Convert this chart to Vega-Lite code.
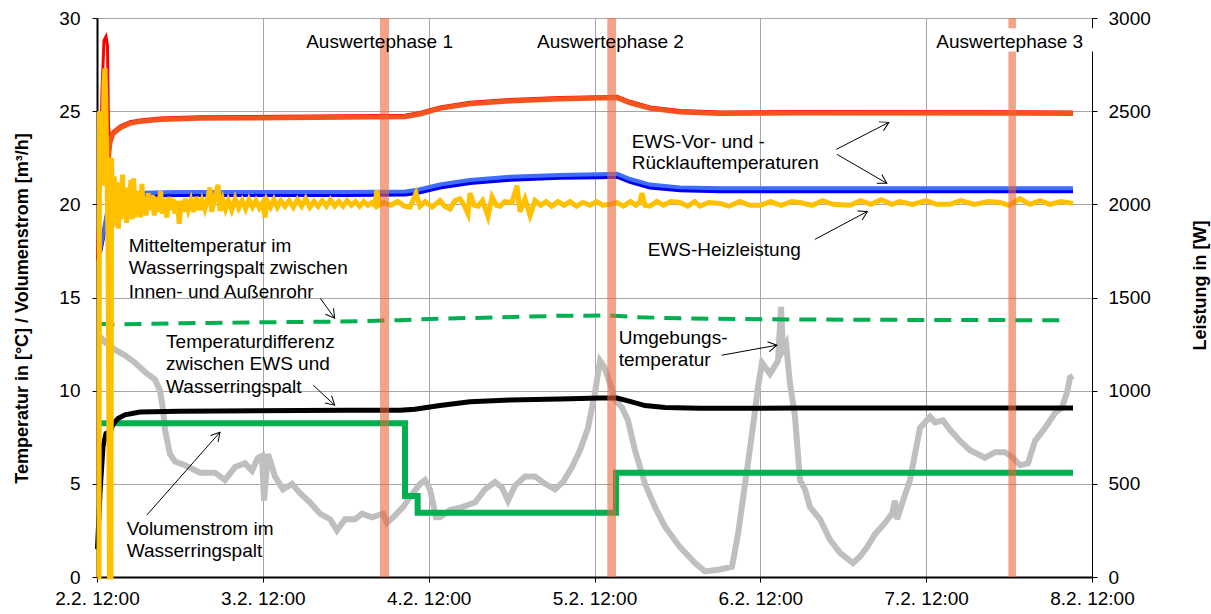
{
  "$schema": "https://vega.github.io/schema/vega-lite/v6.json",
  "autosize": {"type": "none"},
  "width": 995,
  "height": 559,
  "padding": {"left": 97, "top": 18, "right": 119, "bottom": 37},
  "background": "white",
  "config": {
    "font": "Liberation Sans",
    "view": {"stroke": null},
    "axis": {
      "labelFontSize": 19, "labelColor": "black", "titleFontSize": 18, "titleFontWeight": "bold",
      "titleColor": "black", "domainColor": "black", "tickColor": "black", "tickSize": 5,
      "gridColor": "#A6A6A6", "gridWidth": 1, "labelOverlap": false, "labelBound": false, "labelFlush": false
    },
    "text": {"fontSize": 19, "color": "black"}
  },
  "datasets": {
    "umgebung": [
      {"h":0.43,"T":12.9},{"h":1.16,"T":12.6},{"h":2.6,"T":12.2},{"h":4.05,"T":11.9},{"h":5.5,"T":11.5},{"h":6.95,"T":11.0},{"h":8.39,"T":10.6},{"h":9.12,"T":10.0},{"h":9.55,"T":9.0},{"h":9.84,"T":7.9},{"h":10.56,"T":6.6},{"h":11.29,"T":6.2},{"h":12.74,"T":6.0},{"h":14.91,"T":5.6},{"h":17.08,"T":5.6},{"h":18.52,"T":5.2},{"h":19.97,"T":5.9},{"h":21.42,"T":6.1},{"h":22.43,"T":5.7},{"h":23.3,"T":6.4},{"h":23.88,"T":6.5},{"h":24.17,"T":4.1},{"h":24.75,"T":6.6},{"h":25.76,"T":5.4},{"h":26.92,"T":4.7},{"h":28.22,"T":5.0},{"h":29.38,"T":4.5},{"h":30.83,"T":4.0},{"h":32.27,"T":3.4},{"h":33.72,"T":3.1},{"h":34.73,"T":2.5},{"h":35.89,"T":3.1},{"h":37.34,"T":3.1},{"h":38.35,"T":3.4},{"h":39.8,"T":3.2},{"h":41.39,"T":3.4},{"h":41.97,"T":2.9},{"h":42.84,"T":3.2},{"h":44.29,"T":3.75},{"h":45.3,"T":4.3},{"h":46.75,"T":5.0},{"h":47.47,"T":5.2},{"h":48.19,"T":4.7},{"h":49.06,"T":3.2},{"h":49.64,"T":3.2},{"h":51.09,"T":3.6},{"h":52.82,"T":3.75},{"h":54.71,"T":4.0},{"h":56.15,"T":4.7},{"h":57.6,"T":5.1},{"h":58.61,"T":4.8},{"h":59.48,"T":4.1},{"h":60.49,"T":4.9},{"h":61.94,"T":5.4},{"h":63.39,"T":5.4},{"h":64.84,"T":5.0},{"h":66.28,"T":4.7},{"h":67.44,"T":5.1},{"h":68.74,"T":5.9},{"h":69.9,"T":6.8},{"h":71.06,"T":8.0},{"h":72.07,"T":9.9},{"h":72.8,"T":11.6},{"h":73.37,"T":11.3},{"h":74.24,"T":10.4},{"h":74.97,"T":9.5},{"h":75.98,"T":9.1},{"h":76.85,"T":8.4},{"h":77.86,"T":6.8},{"h":79.31,"T":5.0},{"h":80.76,"T":3.75},{"h":82.2,"T":2.7},{"h":84.37,"T":1.6},{"h":86.55,"T":0.75},{"h":87.99,"T":0.3},{"h":90.16,"T":0.4},{"h":91.9,"T":0.55},{"h":92.77,"T":2.3},{"h":93.79,"T":5.0},{"h":94.8,"T":7.7},{"h":95.67,"T":10.2},{"h":96.24,"T":11.5},{"h":97.4,"T":10.9},{"h":98.56,"T":11.6},{"h":98.99,"T":14.5},{"h":99.28,"T":12.2},{"h":99.72,"T":12.5},{"h":100.29,"T":10.4},{"h":101.02,"T":8.6},{"h":101.74,"T":5.2},{"h":102.46,"T":4.7},{"h":103.19,"T":3.75},{"h":104.63,"T":3.1},{"h":106.08,"T":2.0},{"h":107.53,"T":1.3},{"h":109.41,"T":0.75},{"h":110.43,"T":1.1},{"h":111.44,"T":1.6},{"h":112.6,"T":2.3},{"h":114.04,"T":2.9},{"h":115.06,"T":3.4},{"h":115.49,"T":4.1},{"h":115.78,"T":3.1},{"h":116.65,"T":4.1},{"h":117.66,"T":5.2},{"h":118.38,"T":6.6},{"h":119.11,"T":8.0},{"h":120.56,"T":8.6},{"h":121.28,"T":8.3},{"h":122.43,"T":8.4},{"h":123.45,"T":7.9},{"h":124.9,"T":7.3},{"h":126.34,"T":6.8},{"h":128.51,"T":6.4},{"h":129.96,"T":6.7},{"h":131.41,"T":6.7},{"h":132.57,"T":6.4},{"h":133.58,"T":6.0},{"h":134.74,"T":6.1},{"h":135.75,"T":7.3},{"h":137.2,"T":8.0},{"h":138.65,"T":8.8},{"h":139.66,"T":9.1},{"h":140.38,"T":9.9},{"h":140.82,"T":10.7},{"h":141.25,"T":10.8}
    ],
    "volumen": [
      {"h":0.07,"V":8.25},{"h":44.57,"V":8.25},{"h":44.58,"V":4.35},{"h":46.4,"V":4.35},{"h":46.41,"V":3.45},{"h":75.1,"V":3.45},{"h":75.11,"V":5.6},{"h":141.25,"V":5.6}
    ],
    "tdiff": [
      {"h":0.07,"T":1.5},{"h":0.43,"T":4.5},{"h":0.87,"T":7.0},{"h":1.3,"T":7.7},{"h":1.88,"T":7.8},{"h":2.32,"T":8.2},{"h":3.04,"T":8.5},{"h":4.05,"T":8.7},{"h":6.22,"T":8.85},{"h":12.01,"T":8.9},{"h":36.04,"T":8.95},{"h":43.85,"T":8.95},{"h":46.0,"T":9.0},{"h":49.64,"T":9.2},{"h":53.98,"T":9.4},{"h":59.77,"T":9.5},{"h":67.01,"T":9.55},{"h":72.8,"T":9.6},{"h":75.26,"T":9.6},{"h":76.85,"T":9.45},{"h":79.31,"T":9.2},{"h":82.2,"T":9.1},{"h":87.27,"T":9.05},{"h":101.74,"T":9.07},{"h":141.25,"T":9.07}
    ],
    "mittel": [
      {"h":0.07,"T":13.6},{"h":1.88,"T":13.55},{"h":12.01,"T":13.62},{"h":24.02,"T":13.67},{"h":33.72,"T":13.7},{"h":43.85,"T":13.78},{"h":48.19,"T":13.85},{"h":60.06,"T":13.95},{"h":67.01,"T":14.02},{"h":74.24,"T":14.03},{"h":77.86,"T":13.95},{"h":84.37,"T":13.88},{"h":96.24,"T":13.83},{"h":116.21,"T":13.8},{"h":139.66,"T":13.78}
    ],
    "rl_dunkel": [
      {"h":0.43,"T":17.4},{"h":0.87,"T":18.2},{"h":1.45,"T":19.4},{"h":2.03,"T":20.1},{"h":2.75,"T":20.35},{"h":4.78,"T":20.45},{"h":12.01,"T":20.5},{"h":36.04,"T":20.5},{"h":44.57,"T":20.53},{"h":46.46,"T":20.62},{"h":49.64,"T":20.9},{"h":53.98,"T":21.15},{"h":59.77,"T":21.32},{"h":67.01,"T":21.42},{"h":72.8,"T":21.45},{"h":75.26,"T":21.48},{"h":77.14,"T":21.2},{"h":80.03,"T":20.9},{"h":84.37,"T":20.75},{"h":90.16,"T":20.7},{"h":101.74,"T":20.7},{"h":141.25,"T":20.7}
    ],
    "rl_hell": [
      {"h":0.43,"T":17.56},{"h":0.87,"T":18.36},{"h":1.45,"T":19.56},{"h":2.03,"T":20.26},{"h":2.75,"T":20.51},{"h":4.78,"T":20.61},{"h":12.01,"T":20.66},{"h":36.04,"T":20.66},{"h":44.57,"T":20.69},{"h":46.46,"T":20.78},{"h":49.64,"T":21.06},{"h":53.98,"T":21.31},{"h":59.77,"T":21.48},{"h":67.01,"T":21.58},{"h":72.8,"T":21.61},{"h":75.26,"T":21.64},{"h":77.14,"T":21.36},{"h":80.03,"T":21.06},{"h":84.37,"T":20.91},{"h":90.16,"T":20.86},{"h":101.74,"T":20.86},{"h":141.25,"T":20.86}
    ],
    "vl_rot": [
      {"h":0.07,"T":17.0},{"h":0.43,"T":21.0},{"h":0.72,"T":26.0},{"h":1.01,"T":28.8},{"h":1.3,"T":29.0},{"h":1.52,"T":28.5},{"h":1.66,"T":24.2},{"h":1.88,"T":23.45},{"h":2.32,"T":23.9},{"h":3.33,"T":24.2},{"h":4.78,"T":24.43},{"h":6.22,"T":24.53},{"h":9.12,"T":24.63},{"h":14.91,"T":24.7},{"h":36.04,"T":24.75},{"h":44.57,"T":24.78},{"h":46.75,"T":24.93},{"h":49.64,"T":25.23},{"h":53.98,"T":25.48},{"h":59.77,"T":25.63},{"h":67.01,"T":25.73},{"h":72.8,"T":25.78},{"h":75.26,"T":25.8},{"h":77.14,"T":25.53},{"h":80.03,"T":25.23},{"h":84.37,"T":25.03},{"h":90.16,"T":24.96},{"h":101.74,"T":24.98},{"h":141.25,"T":24.96}
    ],
    "vl_orange": [
      {"h":1.59,"T":22.3},{"h":1.88,"T":23.3},{"h":2.32,"T":23.8},{"h":3.33,"T":24.1},{"h":4.78,"T":24.35},{"h":6.22,"T":24.45},{"h":9.12,"T":24.55},{"h":14.91,"T":24.62},{"h":36.04,"T":24.67},{"h":44.57,"T":24.7},{"h":46.75,"T":24.85},{"h":49.64,"T":25.15},{"h":53.98,"T":25.4},{"h":59.77,"T":25.55},{"h":67.01,"T":25.65},{"h":72.8,"T":25.7},{"h":75.26,"T":25.72},{"h":77.14,"T":25.45},{"h":80.03,"T":25.15},{"h":84.37,"T":24.95},{"h":90.16,"T":24.88},{"h":101.74,"T":24.9},{"h":141.25,"T":24.88}
    ],
    "heiz": [
      {"h":0.07,"P":0},{"h":0.29,"P":0},{"h":0.36,"P":2500},{"h":0.58,"P":2450},{"h":0.8,"P":2100},{"h":1.01,"P":2650},{"h":1.16,"P":2730},{"h":1.3,"P":2500},{"h":1.59,"P":1800},{"h":1.81,"P":0},{"h":2.03,"P":0},
      {"h":2.1,"P":2250},{"h":2.3,"P":1880},{"h":2.5,"P":2150},{"h":2.7,"P":1900},{"h":2.9,"P":2120},{"h":3.1,"P":1870},{"h":3.3,"P":2080},{"h":3.5,"P":1920},{"h":3.7,"P":2160},{"h":3.9,"P":1950},{"h":4.1,"P":2050},{"h":4.3,"P":1900},{"h":4.5,"P":2090},{"h":4.7,"P":1960},{"h":4.9,"P":2130},{"h":5.1,"P":1920},{"h":5.3,"P":2140},{"h":5.5,"P":1930},{"h":5.7,"P":2040},{"h":5.9,"P":1960},{"h":6.1,"P":2070},{"h":6.3,"P":1930},{"h":6.5,"P":2110},{"h":6.7,"P":1960},{"h":6.9,"P":2040},{"h":7.1,"P":1940},{"h":7.4,"P":2060},{"h":7.7,"P":1970},{"h":8.0,"P":2050},{"h":8.3,"P":1940},{"h":8.6,"P":2040},{"h":8.9,"P":1960},{"h":9.2,"P":2070},{"h":9.5,"P":1950},{"h":9.8,"P":2030},{"h":10.1,"P":1930},{"h":10.4,"P":2040},{"h":10.7,"P":1970},{"h":11.0,"P":2030},{"h":11.3,"P":1950},{"h":11.6,"P":2020},{"h":11.9,"P":1895},{"h":12.2,"P":2020},{"h":12.5,"P":1960},{"h":12.8,"P":2030},{"h":13.2,"P":1970},{"h":13.6,"P":2020},{"h":14.0,"P":1960},{"h":14.4,"P":2040},{"h":14.8,"P":1970},{"h":15.2,"P":2020},{"h":15.6,"P":1975},{"h":16.0,"P":2030},{"h":16.35,"P":2090},{"h":16.6,"P":1960},{"h":17.0,"P":2025},{"h":17.5,"P":2105},{"h":17.8,"P":1965},{"h":18.2,"P":2025},{"h":18.6,"P":1975},{"h":19.0,"P":2020},{"h":19.5,"P":1970},{"h":20.0,"P":2030},{"h":20.5,"P":1980},{"h":21.0,"P":2020},{"h":21.5,"P":1975},{"h":22.0,"P":2025},{"h":22.5,"P":1985},{"h":23.0,"P":2020},{"h":23.5,"P":1980},{"h":24.0,"P":2010},{"h":24.3,"P":1930},{"h":24.6,"P":2020},{"h":25.1,"P":1985},{"h":25.6,"P":2025},{"h":26.1,"P":1985},{"h":26.6,"P":2020},{"h":27.2,"P":1990},{"h":27.8,"P":2020},{"h":28.4,"P":1985},{"h":29.0,"P":2025},{"h":29.6,"P":1990},{"h":30.2,"P":2030},{"h":30.8,"P":1985},{"h":31.4,"P":2015},{"h":32.0,"P":1990},{"h":32.6,"P":2020},{"h":33.2,"P":1990},{"h":33.8,"P":2025},{"h":34.4,"P":1990},{"h":35.0,"P":2015},{"h":35.6,"P":1990},{"h":36.2,"P":2020},{"h":36.8,"P":1995},{"h":37.4,"P":2015},{"h":38.0,"P":1990},{"h":38.6,"P":2015},{"h":39.2,"P":1995},{"h":39.8,"P":2010},{"h":40.2,"P":1995},{"h":40.52,"P":2075},{"h":40.8,"P":1995},
      {"h":41.5,"P":2010},{"h":42.5,"P":1995},{"h":43.5,"P":2015},{"h":44.5,"P":1990},{"h":45.3,"P":1985},{"h":46.17,"P":2060},{"h":46.75,"P":1990},{"h":47.5,"P":2015},{"h":48.5,"P":1985},{"h":49.64,"P":2020},{"h":50.3,"P":1990},{"h":51.09,"P":1975},{"h":51.8,"P":2020},{"h":52.53,"P":2030},{"h":53.2,"P":1990},{"h":53.69,"P":1950},{"h":53.98,"P":2060},{"h":54.6,"P":1995},{"h":55.14,"P":1990},{"h":55.8,"P":2020},{"h":56.59,"P":1935},{"h":57.17,"P":2040},{"h":57.8,"P":1995},{"h":58.32,"P":1990},{"h":59.0,"P":2015},{"h":60.06,"P":2010},{"h":60.78,"P":2100},{"h":61.22,"P":1960},{"h":61.94,"P":2030},{"h":62.67,"P":1940},{"h":63.39,"P":2020},{"h":64.2,"P":1995},{"h":65.0,"P":2015},{"h":65.8,"P":1990},{"h":66.7,"P":2015},{"h":67.6,"P":1995},{"h":68.45,"P":2015},{"h":69.4,"P":1990},{"h":70.3,"P":2010},{"h":71.35,"P":1995},{"h":72.3,"P":2015},{"h":73.2,"P":1995},{"h":74.24,"P":2000},{"h":75.2,"P":2010},{"h":76.2,"P":1990},{"h":77.2,"P":2015},{"h":78.0,"P":1995},{"h":78.59,"P":2015},{"h":78.87,"P":2060},{"h":79.3,"P":1995},{"h":80.03,"P":1990},{"h":81.0,"P":2015},{"h":82.0,"P":1995},{"h":83.0,"P":2015},{"h":84.37,"P":2010},{"h":85.5,"P":1990},{"h":86.5,"P":2015},{"h":87.27,"P":1990},{"h":88.5,"P":2010},{"h":90.16,"P":2005},{"h":91.5,"P":1990},{"h":93.0,"P":2015},{"h":94.5,"P":1995},{"h":95.95,"P":1995},{"h":97.5,"P":2015},{"h":99.0,"P":1995},{"h":100.5,"P":2015},{"h":101.74,"P":2010},{"h":103.5,"P":1995},{"h":105.0,"P":2020},{"h":106.5,"P":2000},{"h":108.98,"P":1995},{"h":110.5,"P":2020},{"h":112.0,"P":2000},{"h":113.5,"P":2025},{"h":115.0,"P":2000},{"h":116.21,"P":2015},{"h":118.0,"P":2000},{"h":120.0,"P":2020},{"h":121.5,"P":2000},{"h":123.45,"P":2000},{"h":125.0,"P":2020},{"h":127.0,"P":2000},{"h":129.0,"P":2015},{"h":130.69,"P":2010},{"h":132.0,"P":1995},{"h":133.58,"P":2030},{"h":135.0,"P":2000},{"h":136.5,"P":2020},{"h":137.92,"P":2000},{"h":139.5,"P":2015},{"h":141.25,"P":2005}
    ],
    "phasen": [
      {"von":40.96,"bis":42.26,"phase":"Auswertephase 1","mitte":40.9},
      {"von":73.85,"bis":75.11,"phase":"Auswertephase 2","mitte":74.3},
      {"von":131.9,"bis":133.0,"phase":"Auswertephase 3","mitte":132.1}
    ],
    "labelbox": [{"h1":120.5,"h2":144.3,"v1":28.2,"v2":29.45}],
    "beschriftung": [
      {"h":77.4,"v":23.35,"text":"EWS-Vor- und -"},
      {"h":77.4,"v":22.2,"text":"Rücklauftemperaturen"},
      {"h":79.7,"v":17.53,"text":"EWS-Heizleistung"},
      {"h":4.6,"v":17.75,"text":"Mitteltemperatur im"},
      {"h":4.6,"v":16.57,"text":"Wasserringspalt zwischen"},
      {"h":4.6,"v":15.3,"text":"Innen- und Außenrohr"},
      {"h":75.5,"v":12.8,"text":"Umgebungs-"},
      {"h":75.5,"v":11.64,"text":"temperatur"},
      {"h":10.0,"v":12.62,"text":"Temperaturdifferenz"},
      {"h":10.0,"v":11.45,"text":"zwischen EWS und"},
      {"h":10.0,"v":10.17,"text":"Wasserringspalt"},
      {"h":4.3,"v":2.55,"text":"Volumenstrom im"},
      {"h":4.3,"v":1.37,"text":"Wasserringspalt"}
    ],
    "pfeile": [
      {"h":107.0,"v":22.95,"h2":114.6,"v2":24.4,"heading":62.7},
      {"h":107.1,"v":22.68,"h2":114.3,"v2":21.13,"heading":120.3},
      {"h":103.9,"v":18.12,"h2":111.5,"v2":19.62,"heading":62},
      {"h":32.3,"v":14.96,"h2":34.4,"v2":13.89,"heading":143.1},
      {"h":31.3,"v":10.29,"h2":34.4,"v2":9.22,"heading":132.3},
      {"h":7.2,"v":3.32,"h2":17.8,"v2":7.77,"heading":41.3},
      {"h":90.4,"v":11.9,"h2":98.4,"v2":12.44,"heading":79.7}
    ]
  },
  "layer": [
    {
      "encoding": {
        "x": {"field": "h", "type": "quantitative", "scale": {"domain": [0, 144], "nice": false, "zero": false},
          "axis": {"title": null, "values": [0, 24, 48, 72, 96, 120, 144], "grid": true, "domainWidth": 2, "labelPadding": 7,
            "labelExpr": "(2 + datum.value / 24) + '.2. 12:00'"}},
        "y": {"field": "T", "type": "quantitative", "scale": {"domain": [0, 30], "nice": false},
          "axis": {"orient": "left", "values": [0, 5, 10, 15, 20, 25, 30], "grid": true, "domainWidth": 2, "labelPadding": 12,
            "title": "Temperatur in [°C] / Volumenstrom [m³/h]", "titleX": -75, "titleY": 290, "titleAngle": 270,
            "titleAlign": "center", "titleBaseline": "middle"}}
      },
      "layer": [
        {"data": {"name": "umgebung"}, "mark": {"type": "line", "color": "#BFBFBF", "strokeWidth": 6}},
        {"data": {"name": "volumen"}, "mark": {"type": "line", "color": "#00B050", "strokeWidth": 6},
          "encoding": {"y": {"field": "V", "type": "quantitative"}}},
        {"data": {"name": "tdiff"}, "mark": {"type": "line", "color": "#000000", "strokeWidth": 5}},
        {"data": {"name": "mittel"}, "mark": {"type": "line", "color": "#00B050", "strokeWidth": 4, "strokeDash": [17, 10]}},
        {"data": {"name": "rl_dunkel"}, "mark": {"type": "line", "color": "#0000F0", "strokeWidth": 4}},
        {"data": {"name": "rl_hell"}, "mark": {"type": "line", "color": "#3D6CFF", "strokeWidth": 4}},
        {"data": {"name": "vl_rot"}, "mark": {"type": "line", "color": "#FF0000", "strokeWidth": 3}},
        {"data": {"name": "vl_orange"}, "mark": {"type": "line", "color": "#F4531E", "strokeWidth": 5}}
      ]
    },
    {
      "data": {"name": "heiz"},
      "mark": {"type": "line", "color": "#FFC000", "strokeWidth": 5},
      "encoding": {
        "x": {"field": "h", "type": "quantitative", "scale": {"domain": [0, 144], "nice": false, "zero": false}},
        "y": {"field": "P", "type": "quantitative", "scale": {"domain": [0, 3000], "nice": false},
          "axis": {"orient": "right", "values": [0, 500, 1000, 1500, 2000, 2500, 3000], "format": "d", "grid": false, "labelPadding": 11,
            "title": "Leistung in [W]", "titleX": 108, "titleY": 267, "titleAngle": 270,
            "titleAlign": "center", "titleBaseline": "middle"}}
      }
    },
    {
      "layer": [
        {"data": {"name": "phasen"}, "mark": {"type": "rect", "color": "#ED6639", "opacity": 0.6},
          "encoding": {
            "x": {"field": "von", "type": "quantitative", "scale": {"domain": [0, 144], "nice": false, "zero": false}},
            "x2": {"field": "bis"}
          }},
        {"data": {"name": "labelbox"}, "mark": {"type": "rect", "color": "white", "opacity": 1},
          "encoding": {
            "x": {"field": "h1", "type": "quantitative", "scale": {"domain": [0, 144], "nice": false, "zero": false}},
            "x2": {"field": "h2"},
            "y": {"field": "v1", "type": "quantitative", "scale": {"domain": [0, 30], "nice": false}, "axis": null},
            "y2": {"field": "v2"}
          }},
        {"data": {"name": "phasen"}, "mark": {"type": "text", "align": "center", "baseline": "middle"},
          "encoding": {
            "x": {"field": "mitte", "type": "quantitative", "scale": {"domain": [0, 144], "nice": false, "zero": false}},
            "y": {"datum": 28.7, "type": "quantitative", "scale": {"domain": [0, 30], "nice": false}, "axis": null},
            "text": {"field": "phase"}
          }},
        {"data": {"name": "beschriftung"}, "mark": {"type": "text", "align": "left", "baseline": "middle"},
          "encoding": {
            "x": {"field": "h", "type": "quantitative", "scale": {"domain": [0, 144], "nice": false, "zero": false}},
            "y": {"field": "v", "type": "quantitative", "scale": {"domain": [0, 30], "nice": false}, "axis": null},
            "text": {"field": "text"}
          }},
        {"data": {"name": "pfeile"}, "mark": {"type": "rule", "color": "black", "strokeWidth": 1},
          "encoding": {
            "x": {"field": "h", "type": "quantitative", "scale": {"domain": [0, 144], "nice": false, "zero": false}},
            "y": {"field": "v", "type": "quantitative", "scale": {"domain": [0, 30], "nice": false}, "axis": null},
            "x2": {"field": "h2"},
            "y2": {"field": "v2"}
          }},
        {"data": {"name": "pfeile"}, "mark": {"type": "point", "shape": "M-0.5,0.866L0,0L0.5,0.866", "filled": false, "stroke": "black", "strokeWidth": 1, "size": 400, "opacity": 1},
          "encoding": {
            "x": {"field": "h2", "type": "quantitative", "scale": {"domain": [0, 144], "nice": false, "zero": false}},
            "y": {"field": "v2", "type": "quantitative", "scale": {"domain": [0, 30], "nice": false}, "axis": null},
            "angle": {"field": "heading", "type": "quantitative", "scale": null}
          }}
      ]
    }
  ],
  "resolve": {"scale": {"y": "independent"}, "axis": {"y": "independent"}}
}
